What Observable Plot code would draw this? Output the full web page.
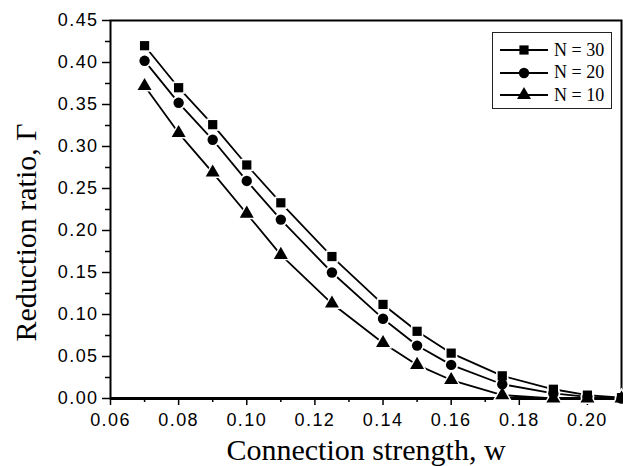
<!DOCTYPE html>
<html>
<head>
<meta charset="utf-8">
<script src="https://cdn.jsdelivr.net/npm/d3@7"></script>
<script src="https://cdn.jsdelivr.net/npm/@observablehq/plot@0.6"></script>
<style>
  html, body { margin: 0; padding: 0; background: white; }
  #wrap { position: relative; width: 623px; height: 466px; }
  #legend { position: absolute; left: 492px; top: 32px; width: 120px; height: 77px;
            border: 1px solid #222; box-sizing: border-box; background: white;
            font-family: "Liberation Serif", "Times New Roman", serif; font-size: 18px; }
  .row { position: absolute; left: 0; height: 22px; display: flex; align-items: center; }
  .row span { margin-left: 3px; }
</style>
</head>
<body>
<div id="wrap"><div id="legend"></div></div>
<script>
// Data
const w = [0.07, 0.08, 0.09, 0.10, 0.11, 0.125, 0.14, 0.15, 0.16, 0.175, 0.19, 0.20, 0.21];
const gammaN30 = [0.420, 0.370, 0.326, 0.278, 0.233, 0.169, 0.112, 0.080, 0.054, 0.027, 0.011, 0.004, 0.001];
const gammaN20 = [0.402, 0.352, 0.308, 0.259, 0.213, 0.150, 0.095, 0.063, 0.040, 0.017, 0.006, 0.002, 0.000];
const gammaN10 = [0.372, 0.316, 0.269, 0.220, 0.171, 0.113, 0.066, 0.040, 0.022, 0.004, 0.000, 0.000, 0.000];
const seriesNames = ["N = 30", "N = 20", "N = 10"];
const seriesSymbols = ["square", "circle", "triangle"];
const xTicks = [0.06, 0.08, 0.10, 0.12, 0.14, 0.16, 0.18, 0.20];
const xMinorTicks = [0.07, 0.09, 0.11, 0.13, 0.15, 0.17, 0.19, 0.21];
const yTicks = [0.00, 0.05, 0.10, 0.15, 0.20, 0.25, 0.30, 0.35, 0.40, 0.45];
const yMinorTicks = [0.025, 0.075, 0.125, 0.175, 0.225, 0.275, 0.325, 0.375, 0.425];
const xTitle = "Connection strength, w";
const yTitle = "Reduction ratio, Γ";

const allSeries = [gammaN30, gammaN20, gammaN10];
const data = [];
allSeries.forEach((vals, i) => vals.forEach((v, j) => data.push({w: w[j], g: v, s: seriesNames[i]})));

const fmt = d3.format(".2f");
const tickFont = {fontFamily: "Liberation Sans, Arial, sans-serif", fontSize: 18};

const plot = Plot.plot({
  width: 623, height: 466,
  marginLeft: 110, marginRight: 2, marginTop: 20, marginBottom: 68,
  style: {background: "white", color: "black", overflow: "visible"},
  x: {domain: [0.06, 0.21]},
  y: {domain: [0, 0.45]},
  symbol: {domain: seriesNames, range: seriesSymbols},
  marks: [
    Plot.frame({stroke: "black", strokeWidth: 2}),
    Plot.ruleY([0], {stroke: "black", strokeWidth: 3}),
    Plot.axisY(yTicks, {tickSize: 8, tickPadding: 4, strokeWidth: 1.5, tickFormat: fmt, label: null, ...tickFont, fill: "black"}),
    Plot.axisY(yMinorTicks, {tickSize: 5, strokeWidth: 1.5, tickFormat: () => "", label: null}),
    Plot.axisX(xTicks, {tickSize: 7, tickPadding: 8, strokeWidth: 1.5, tickFormat: fmt, label: null, ...tickFont, fill: "black"}),
    Plot.axisX(xMinorTicks, {tickSize: 4, strokeWidth: 1.5, tickFormat: () => "", label: null}),
    Plot.line(data, {x: "w", y: "g", z: "s", stroke: "black", strokeWidth: 1.8}),
    Plot.dot(data, {x: "w", y: "g", symbol: "s", fill: "white", r: 7}),
    Plot.dot(data, {x: "w", y: "g", symbol: "s", fill: "black", r: 5.2}),
    Plot.text([xTitle], {frameAnchor: "bottom", dy: 52, lineAnchor: "middle", textAnchor: "middle",
      fontFamily: "Liberation Serif, Times New Roman, serif", fontSize: 30, fill: "black"}),
    Plot.text([yTitle], {frameAnchor: "left", dx: -84, dy: 23, rotate: -90, lineAnchor: "middle", textAnchor: "middle",
      fontFamily: "Liberation Serif, Times New Roman, serif", fontSize: 30, fill: "black"})
  ]
});
d3.select(plot).selectAll('g[aria-label$="tick label"] text').attr("letter-spacing", "1.4");
document.getElementById("wrap").insertBefore(plot, document.getElementById("legend"));

// Legend
const legend = document.getElementById("legend");
seriesNames.forEach((name, i) => {
  const row = document.createElement("div");
  row.className = "row";
  row.style.top = (6 + i * 22.5) + "px";
  const svg = d3.create("svg").attr("width", 58).attr("height", 22);
  svg.append("line").attr("x1", 7).attr("x2", 55).attr("y1", 11).attr("y2", 11)
    .attr("stroke", "black").attr("stroke-width", 1.8);
  const type = {square: d3.symbolSquare, circle: d3.symbolCircle, triangle: d3.symbolTriangle}[seriesSymbols[i]];
  svg.append("path").attr("d", d3.symbol(type, Math.PI * 5.2 * 5.2)())
    .attr("transform", "translate(31,11)").attr("fill", "black");
  row.appendChild(svg.node());
  const span = document.createElement("span");
  span.textContent = name;
  row.appendChild(span);
  legend.appendChild(row);
});
</script>
</body>
</html>
